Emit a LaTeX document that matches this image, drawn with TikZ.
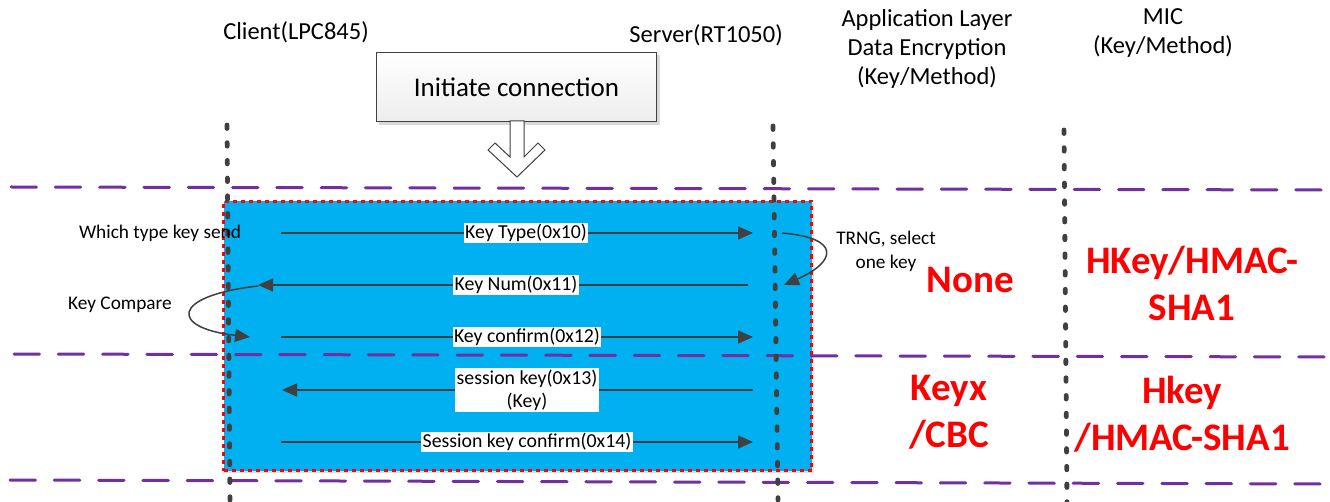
\documentclass[tikz,border=0pt]{standalone}
\usepackage{fontspec}
\setmainfont{Carlito}
\usetikzlibrary{arrows.meta}
\definecolor{lifegray}{HTML}{404040}
\definecolor{phasepurple}{HTML}{7030A0}
\definecolor{zoneblue}{HTML}{00B0F0}
\definecolor{hotred}{HTML}{FF0000}
\tikzset{
  lifeline/.style={draw=lifegray,line width=4.8pt,line cap=round,dash pattern=on 3.5pt off 14.2pt},
  phaseline/.style={draw=phasepurple,line width=3pt,line cap=round,dash pattern=on 25.5pt off 18.8pt},
  msg/.style={draw=lifegray,line width=1.5pt,-{Triangle[length=15pt,width=13pt]}},
  msglabel/.style={fill=white,inner sep=1.5pt,font=\fontsize{19.8}{23}\selectfont,align=center},
  note/.style={font=\fontsize{19.3}{24}\selectfont,align=center,inner sep=0pt},
  head/.style={font=\fontsize{24.5}{29}\selectfont,align=center,inner sep=0pt},
  bigred/.style={font=\fontsize{39}{47}\selectfont\bfseries,text=hotred,align=center,inner sep=0pt},
}
\begin{document}
\begin{tikzpicture}[x=1pt,y=-1pt]
\useasboundingbox (0,0) rectangle (1330,502);
% shadow + blue zone
\fill[black!12] (225,203) rectangle (814,473);
\node[fill=zoneblue,draw=hotred,line width=3pt,dash pattern=on 4pt off 4pt,minimum width=588pt,minimum height=269pt,inner sep=0pt,anchor=north west] (zone) at (222,200) {};
% phase lines
\coordinate (p1a) at (11,187); \coordinate (p1b) at (1330,190);
\coordinate (p2a) at (14,354); \coordinate (p2b) at (1330,357);
\coordinate (p3a) at (10,480); \coordinate (p3b) at (1330,484);
\draw[phaseline] (p1a) -- (p1b);
\draw[phaseline] (p2a) -- (p2b);
\draw[phaseline] (p3a) -- (p3b);
% lifelines
\coordinate (ct) at (227,125); \coordinate (cb) at (230,500);
\coordinate (st) at (773,126); \coordinate (sb) at (778,500);
\coordinate (mt) at (1064,130); \coordinate (mb) at (1067,502);
\draw[lifeline] (ct) -- (cb);
\draw[lifeline] (st) -- (sb);
\draw[lifeline] (mt) -- (mb);
% headers
\node[head] (client) at (296,32) {Client(LPC845)};
\node[head] (server) at (706,35) {Server(RT1050)};
\node[head] (app) at (927,49) {Application Layer\\Data Encryption\\(Key/Method)};
\node[head] (mic) at (1163,33) {MIC\\(Key/Method)};
% initiate box
\fill[black!15] (379,55) rectangle (660,125);
\node[draw=lifegray,line width=1pt,top color=white,bottom color=black!7,minimum width=280pt,minimum height=69pt,inner sep=0pt,anchor=north west,font=\fontsize{27}{32}\selectfont] (init) at (376,52) {Initiate connection};
% hollow arrow
\draw[draw=lifegray,fill=white,line width=1pt,line join=miter] (510,121) -- (524,121) -- (524,157) -- (538,143) -- (545,150) -- (517,177) -- (488,150) -- (495,143) -- (510,157) -- cycle;
% messages
\coordinate (m1a) at (281,233); \coordinate (m1b) at (753,233);
\coordinate (m2a) at (748,285); \coordinate (m2b) at (258,285);
\coordinate (m3a) at (281,337); \coordinate (m3b) at (753,337);
\coordinate (m4a) at (753,390); \coordinate (m4b) at (282,390);
\coordinate (m5a) at (281,442); \coordinate (m5b) at (753,442);
\draw[msg] (m1a) -- (m1b);
\draw[msg] (m2a) -- (m2b);
\draw[msg] (m3a) -- (m3b);
\draw[msg] (m4a) -- (m4b);
\draw[msg] (m5a) -- (m5b);
\node[msglabel] (l1) at (526,233) {Key Type(0x10)};
\node[msglabel] (l2) at (516,285) {Key Num(0x11)};
\node[msglabel] (l3) at (527,337) {Key confirm(0x12)};
\node[msglabel] (l4) at (527,390) {session key(0x13)\\(Key)};
\node[msglabel] (l5) at (527,442) {Session key confirm(0x14)};
% side notes
\node[note] (n1) at (160,233) {Which type key send};
\node[note] (n2) at (120,305) {Key Compare};
\node[note] (n3) at (886,251) {TRNG, select\\one key};
\coordinate (c1a) at (258,286); \coordinate (c1b) at (250,337);
\draw[msg] (c1a) .. controls (170,296) and (170,328) .. (c1b);
\coordinate (c2a) at (782,233); \coordinate (c2b) at (784,285);
\draw[msg] (c2a) .. controls (842,238) and (836,262) .. (c2b);
% big red
\node[bigred] (none) at (970,280) {None};
\node[bigred] (hk1) at (1192,283) {HKey/HMAC-\\SHA1};
\node[bigred] (kx) at (949,412) {Keyx\\/CBC};
\node[bigred] (hk2) at (1182,414) {Hkey\\/HMAC-SHA1};
\end{tikzpicture}
\end{document}
